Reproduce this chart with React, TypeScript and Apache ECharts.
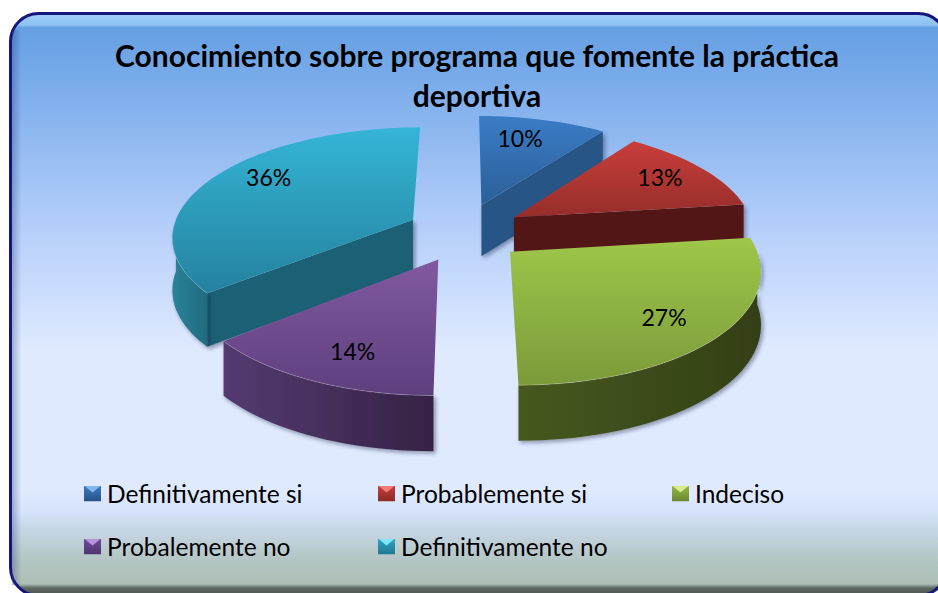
import React, { useEffect, useRef } from "react";
import * as echarts from "echarts";

const titleLines = ["Conocimiento sobre programa que fomente la práctica", "deportiva"];
const categories = ["Definitivamente si", "Probablemente si", "Indeciso", "Probalemente no", "Definitivamente no"];
const shareValues = [10, 13, 27, 14, 36];
const percentLabels = ["10%", "13%", "27%", "14%", "36%"];

// painter's order: back slices first
const drawOrder = [0, 4, 1, 3, 2];

// look
const topColors = [
  ["#3a7cc6", "#2c5f97"],
  ["#c83e3a", "#962d2a"],
  ["#9fc74a", "#7b9a3a"],
  ["#81599f", "#5e3f7e"],
  ["#35b5d6", "#24829f"],
];
const cutColors = ["#265486", "#521713", "#3c4f18", "#3f2a58", "#1c6174"];
const rimColors = [
  ["#2f6aa8", "#265486"],
  ["#6e1f1b", "#521713"],
  ["#46591d", "#333f17"],
  ["#543a70", "#362345"],
  ["#2b8399", "#1f6b80"],
];
const iconColors = [
  ["#82b6ee", "#3f7cc6", "#274f86"],
  ["#f07a74", "#c83e3a", "#8c2a27"],
  ["#d6ea8e", "#94b844", "#6c8732"],
  ["#b795dc", "#6f4c96", "#4e3470"],
  ["#7fe6f8", "#2fa6c6", "#1f7890"],
];

// layout of the projected disc
const CX = 460;
const CY = 232;
const RX = 241;
const RY = 108.5;
const PERSPECTIVE = 0.14;
const EXPLODE = 0.27;
const WALL = 52;
const sliceNudgeX = [2, -1, 0, 7, 11];
const labelNudge = [
  [0, -14],
  [31, -10],
  [33, 17],
  [-14, 23],
  [-22, -17],
];
const legendSlots = [
  [84, 481],
  [378, 481],
  [672, 481],
  [84, 534],
  [378, 534],
];

const total = shareValues.reduce((a, b) => a + b, 0);
const startAngles = shareValues.map((_, i) =>
  (shareValues.slice(0, i).reduce((a, b) => a + b, 0) / total) * Math.PI * 2
);

function project(i: number, theta: number, r: number) {
  const mid = startAngles[i] + (shareValues[i] / total) * Math.PI;
  const X = EXPLODE * Math.sin(mid) + r * Math.sin(theta);
  const Y = EXPLODE * Math.cos(mid) + r * Math.cos(theta);
  const d = 1 + PERSPECTIVE * Y;
  return {
    x: CX + sliceNudgeX[i] + (RX * X) / d,
    y: CY - (RY * Y) / d,
    wall: WALL - 3 * Y,
  };
}

function arcPoints(i: number, a: number, b: number) {
  const n = Math.max(2, Math.ceil(((b - a) / Math.PI) * 80));
  const out = [];
  for (let k = 0; k <= n; k++) out.push(project(i, a + ((b - a) * k) / n, 1));
  return out;
}

function vGrad(c: string[]) {
  return new echarts.graphic.LinearGradient(0, 0, 0, 1, [
    { offset: 0, color: c[0] },
    { offset: 1, color: c[1] },
  ]);
}
function hGrad(c: string[]) {
  return new echarts.graphic.LinearGradient(0, 0, 1, 0, [
    { offset: 0, color: c[0] },
    { offset: 1, color: c[1] },
  ]);
}

function makeRender(i: number) {
  return (_params: any, api: any) => {
    const sweep = (api.value(0) / total) * Math.PI * 2;
    const a = startAngles[i];
    const b = a + sweep;
    const apex = project(i, a, 0);
    const rim = arcPoints(i, a, b);
    const children: any[] = [];
    const shadow = { shadowBlur: 4, shadowColor: "rgba(30,30,50,0.45)", shadowOffsetX: 2, shadowOffsetY: 2 };

    const cutWall = (angle: number) => {
      const e = project(i, angle, 1);
      children.push({
        type: "polygon",
        shape: { points: [[apex.x, apex.y], [e.x, e.y], [e.x, e.y + e.wall], [apex.x, apex.y + apex.wall]] },
        style: { fill: cutColors[i], ...shadow },
      });
    };
    if (Math.sin(a) < -1e-6) cutWall(a);
    if (Math.sin(b) > 1e-6) cutWall(b);

    const fa = Math.max(a, Math.PI / 2);
    const fb = Math.min(b, (Math.PI * 3) / 2);
    if (fb > fa) {
      const front = arcPoints(i, fa, fb);
      const lower = front.map((p) => [p.x, p.y + p.wall]).reverse();
      children.push({
        type: "polygon",
        shape: { points: [...front.map((p) => [p.x, p.y]), ...lower] },
        style: { fill: hGrad(rimColors[i]), ...shadow },
      });
    }

    children.push({
      type: "polygon",
      shape: { points: [[apex.x, apex.y], ...rim.map((p) => [p.x, p.y])] },
      style: { fill: vGrad(topColors[i]) },
    });
    if (fb > fa) {
      children.push({
        type: "polyline",
        shape: { points: arcPoints(i, fa, fb).map((p) => [p.x, p.y]) },
        style: { stroke: "rgba(255,255,255,0.22)", lineWidth: 1, fill: "none" },
      });
    }

    const mid = project(i, (a + b) / 2, 0.6);
    children.push({
      type: "text",
      style: {
        x: mid.x + labelNudge[i][0],
        y: mid.y + labelNudge[i][1],
        text: percentLabels[i],
        fill: "#000",
        font: "23px Lato",
        align: "center",
        verticalAlign: "middle",
      },
    });
    return { type: "group", children };
  };
}

function iconUri(c: string[]) {
  const svg =
    `<svg xmlns="http://www.w3.org/2000/svg" width="17" height="16" viewBox="0 0 17 16">` +
    `<defs><linearGradient id="g" x1="0" y1="0" x2="0" y2="1"><stop offset="0" stop-color="${c[1]}"/><stop offset="1" stop-color="${c[2]}"/></linearGradient></defs>` +
    `<rect width="17" height="16" fill="url(#g)"/>` +
    `<polygon points="0,0 17,0 8.5,7" fill="${c[0]}"/></svg>`;
  return "image://data:image/svg+xml;charset=utf-8," + encodeURIComponent(svg);
}

function buildOption() {
  return {
    animation: false,
    title: {
      text: titleLines.join("\n"),
      left: 477,
      top: 35,
      padding: 0,
      textAlign: "center",
      textStyle: { fontFamily: "Lato", fontWeight: "bold", fontSize: 30, lineHeight: 40, color: "#000" },
    },
    legend: categories.map((name, i) => ({
      left: legendSlots[i][0],
      top: legendSlots[i][1],
      padding: 0,
      selectedMode: false,
      itemWidth: 17,
      itemHeight: 16,
      itemGap: 0,
      data: [{ name, icon: iconUri(iconColors[i]) }],
      textStyle: { fontFamily: "Lato", fontSize: 24.5, color: "#000", padding: [0, 0, 0, 1] },
    })),
    graphic: [
      {
        type: "rect",
        z: -10,
        silent: true,
        shape: { x: 10.5, y: 13.5, width: 936, height: 582, r: 28 },
        style: {
          stroke: "#15157e",
          lineWidth: 3,
          fill: new echarts.graphic.LinearGradient(0, 0, 0, 1, [
            { offset: 0, color: "#9fcdf7" },
            { offset: 0.02, color: "#8ec2f4" },
            { offset: 0.024, color: "#659fe3" },
            { offset: 0.2, color: "#8db7f0" },
            { offset: 0.4, color: "#bcd3fb" },
            { offset: 0.58, color: "#dfeaff" },
            { offset: 0.82, color: "#dfeaff" },
            { offset: 0.855, color: "#d6e3fb" },
            { offset: 0.885, color: "#c8d7e7" },
            { offset: 0.94, color: "#b3c5c3" },
            { offset: 0.98, color: "#aebfb6" },
            { offset: 0.987, color: "#5c6a62" },
            { offset: 1, color: "#4a554f" },
          ]),
        },
      },
      {
        type: "rect",
        z: -9,
        silent: true,
        shape: { x: 12, y: 30, width: 932, height: 555, r: 0 },
        style: {
          fill: new echarts.graphic.LinearGradient(0, 0, 1, 0, [
            { offset: 0, color: "rgba(40,60,120,0.35)" },
            { offset: 0.01, color: "rgba(40,60,120,0)" },
            { offset: 1, color: "rgba(40,60,120,0)" },
          ]),
        },
      },
    ],
    series: drawOrder.map((i) => ({
      type: "custom",
      name: categories[i],
      coordinateSystem: "none",
      silent: true,
      clip: false,
      itemStyle: { color: topColors[i][0] },
      data: [[shareValues[i]]],
      renderItem: makeRender(i),
    })),
  };
}

export default function App() {
  const ref = useRef<HTMLDivElement>(null);
  useEffect(() => {
    const chart = echarts.init(ref.current, null, { renderer: "svg" });
    chart.setOption(buildOption() as any);
    return () => chart.dispose();
  }, []);
  return (
    <div
      ref={ref}
      style={{ position: "fixed", left: 0, top: 0, width: 938, height: 593, background: "#fff" }}
    />
  );
}
